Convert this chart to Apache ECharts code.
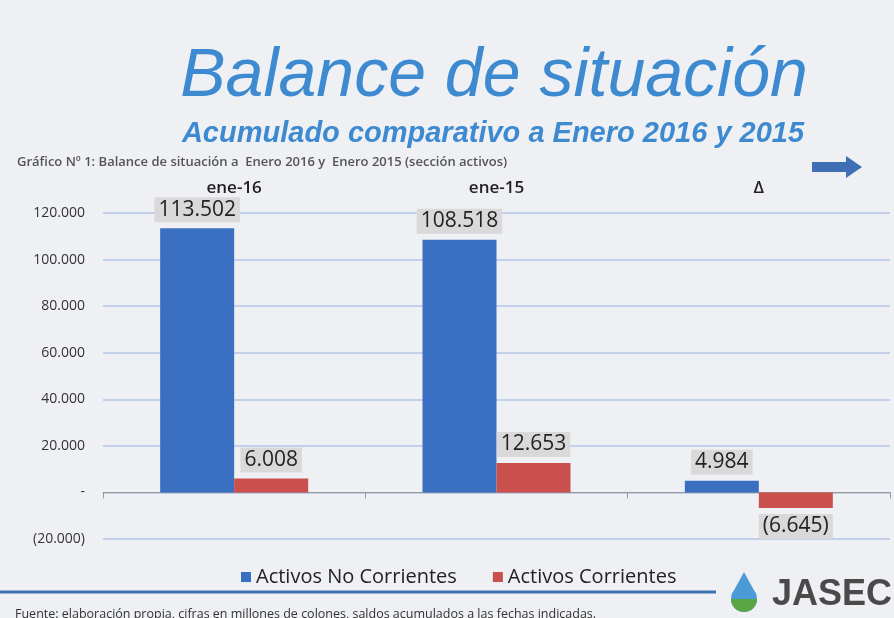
<!DOCTYPE html>
<html>
<head>
<meta charset="utf-8">
<script src="https://cdn.jsdelivr.net/npm/echarts@6/dist/echarts.min.js"></script>
<style>
  html, body { margin: 0; padding: 0; background: #eef0f3; }
  #chart { width: 894px; height: 618px; }
</style>
</head>
<body>
<div id="chart"></div>
<script>
const categories = ['ene-16', 'ene-15', 'Δ'];
const noCorrientes = [113502, 108518, 4984];
const corrientes = [6008, 12653, -6645];
const seriesNames = ['Activos No Corrientes', 'Activos Corrientes'];

const BLUE = '#3b6fc2';
const RED = '#c9504c';

function fmt(v) {
    if (v === 0) return '-';
    const s = Math.abs(v).toString().replace(/\B(?=(\d{3})+(?!\d))/g, '.');
    return v < 0 ? '(' + s + ')' : s;
}

const chart = echarts.init(document.getElementById('chart'));

const labelStyle = {
    show: true,
    fontSize: 21,
    fontFamily: 'Open Sans',
    color: '#222',
    backgroundColor: '#d9d9d9',
    padding: [2, 4],
    formatter: function (p) { return fmt(p.value); }
};

chart.setOption({
    backgroundColor: '#eef0f3',
    animation: false,
    title: [
        {
            text: 'Balance de situación', left: 489, top: 38, textAlign: 'center',
            textStyle: { fontSize: 68, fontStyle: 'italic', fontWeight: 'normal', color: '#3d8ad0', fontFamily: 'Liberation Sans' }
        },
        {
            text: 'Acumulado comparativo a Enero 2016 y 2015', left: 488, top: 114, textAlign: 'center',
            textStyle: { fontSize: 29, fontStyle: 'italic', fontWeight: 'bold', color: '#3d8ad0', fontFamily: 'Liberation Sans' }
        },
        {
            text: 'Gráfico Nº 1: Balance de situación a  Enero 2016 y  Enero 2015 (sección activos)', left: 12, top: 151,
            textStyle: { fontSize: 13, fontWeight: 600, color: '#555', fontFamily: 'Open Sans' }
        },
        {
            text: 'Fuente: elaboración propia, cifras en millones de colones, saldos acumulados a las fechas indicadas.', left: 10, top: 603,
            textStyle: { fontSize: 12.5, fontWeight: 'normal', color: '#333', fontFamily: 'Open Sans' }
        }
    ],
    legend: {
        data: seriesNames, left: 236, top: 562, icon: 'rect', itemWidth: 10, itemHeight: 10, itemGap: 36,
        textStyle: { fontSize: 20, color: '#222', fontFamily: 'Open Sans' }
    },
    grid: { left: 103, right: 4, top: 213, bottom: 79 },
    xAxis: [
        {
            type: 'category', data: categories,
            axisLine: { onZero: true, lineStyle: { color: '#999' } },
            axisTick: { show: true, length: 6, lineStyle: { color: '#999' } },
            axisLabel: { show: false }
        },
        {
            type: 'category', data: categories, position: 'top',
            axisLine: { show: false }, axisTick: { show: false },
            axisLabel: { margin: 16, fontSize: 17, fontWeight: 600, color: '#222', fontFamily: 'Open Sans' }
        }
    ],
    yAxis: {
        type: 'value', min: -20000, max: 120000, interval: 20000,
        axisLine: { show: false }, axisTick: { show: false },
        axisLabel: { margin: 18, fontSize: 14, color: '#333', fontFamily: 'Open Sans', formatter: fmt },
        splitLine: { lineStyle: { color: '#b5c6e6', width: 1.5 } }
    },
    series: [
        {
            name: seriesNames[0], type: 'bar', data: noCorrientes, barWidth: 74, barGap: '0%',
            itemStyle: { color: BLUE },
            label: Object.assign({}, labelStyle, { position: 'top', distance: 6 })
        },
        {
            name: seriesNames[1], type: 'bar', data: corrientes.map(function (v) {
                return v < 0 ? { value: v, label: { position: 'bottom' } } : v;
            }), barWidth: 74,
            itemStyle: { color: RED },
            label: Object.assign({}, labelStyle, { position: 'top', distance: 6 })
        }
    ],
    graphic: [
        {
            type: 'polygon', shape: { points: [[812, 162], [846, 162], [846, 156], [862, 167], [846, 178], [846, 172], [812, 172]] },
            style: { fill: '#3f6fb5' }
        },
        {
            type: 'line', shape: { x1: 0, y1: 592, x2: 716, y2: 592 },
            style: { stroke: '#3f6fb5', lineWidth: 3 }
        },
        {
            type: 'text', x: 772, y: 577,
            style: { text: 'JASEC', fontSize: 36, fontWeight: 'bold', fill: '#4a4a4a', fontFamily: 'Liberation Sans' }
        },
        // logo drop
        {
            type: 'polygon', shape: { points: [[744, 572], [732, 594], [756, 594]] },
            style: { fill: '#4b9bd6' }
        },
        {
            type: 'circle', shape: { cx: 744, cy: 599, r: 13 },
            style: { fill: '#4b9bd6' }
        },
        {
            type: 'sector', shape: { cx: 744, cy: 599, r: 13, r0: 0, startAngle: 0, endAngle: Math.PI },
            style: { fill: '#5aa646' }
        }
    ]
});
</script>
</body>
</html>
